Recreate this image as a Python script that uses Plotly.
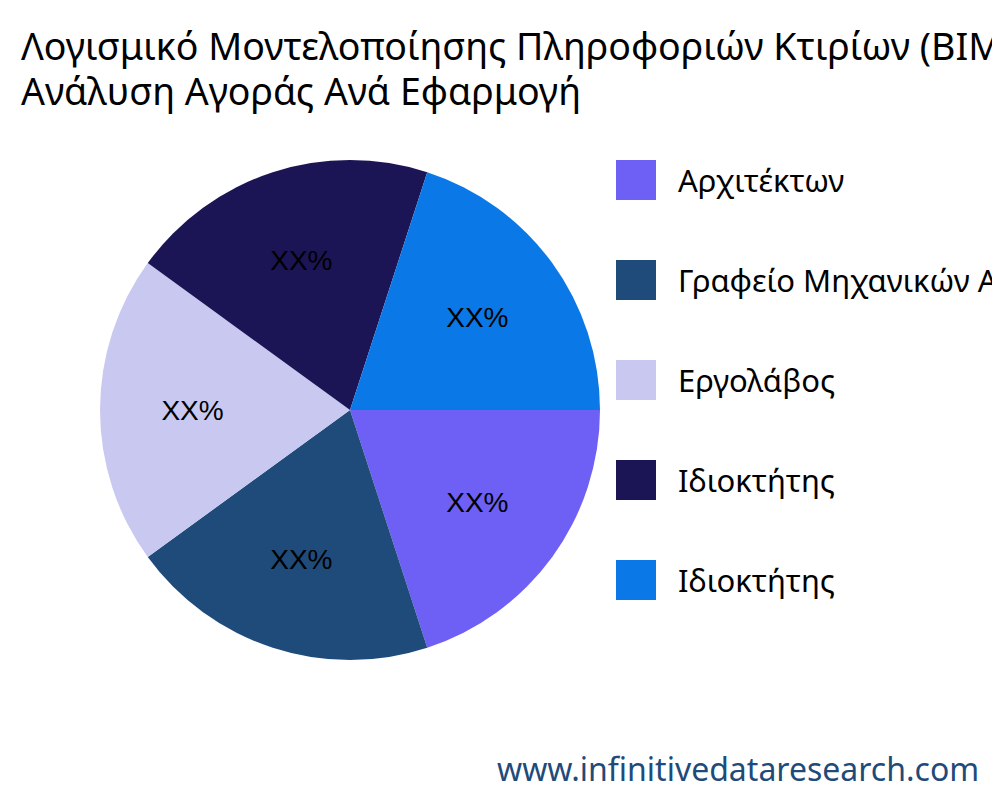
import plotly.graph_objects as go

labels = ["Αρχιτέκτων", "Γραφείο Μηχανικών Αρχιτεκτόνων", "Εργολάβος", "Ιδιοκτήτης", "Ιδιοκτήτης"]
values = [20, 20, 20, 20, 20]
texts = ["XX%"] * 5
colors = ["#6E5FF5", "#1F4B7A", "#C8C8F0", "#1B1555", "#0A78E6"]
title_lines = ["Λογισμικό Μοντελοποίησης Πληροφοριών Κτιρίων (BIM)", "Ανάλυση Αγοράς Ανά Εφαρμογή"]

W, H, OFF = 1000, 800, 8
def px(x): return (x - OFF) / W
def py(y): return 1 - (y - OFF) / H

fig = go.Figure(go.Pie(
    labels=[f"s{i}" for i in range(len(labels))], values=values, text=texts,
    textinfo="text", sort=False, direction="clockwise", rotation=90,
    marker=dict(colors=colors), showlegend=False,
    textfont=dict(family="Liberation Sans, Arial", size=28, color="black"),
    insidetextorientation="horizontal",
    domain=dict(x=[px(100), px(600)], y=[py(660), py(160)]), hoverinfo="skip"))

shapes, annotations = [], []
for i, (lab, c) in enumerate(zip(labels, colors)):
    yc = 180 + 100 * i
    shapes.append(dict(type="rect", xref="paper", yref="paper", x0=px(616), x1=px(656),
                       y0=py(yc + 20), y1=py(yc - 20), fillcolor=c, line_width=0))
    annotations.append(dict(text=lab, xref="paper", yref="paper", x=px(676), y=py(yc),
                            xanchor="left", yanchor="middle", showarrow=False,
                            font=dict(family="Noto Sans", size=31, color="black")))
for j, t in enumerate(title_lines):
    annotations.append(dict(text=t, xref="paper", yref="paper", x=px(19), y=py(46 + 44 * j),
                            xanchor="left", yanchor="middle", showarrow=False,
                            font=dict(family="Noto Sans", size=37.5, color="black")))
annotations.append(dict(text="www.infinitivedataresearch.com", xref="paper", yref="paper",
                        x=px(981), y=py(768), xanchor="right", yanchor="middle", showarrow=False,
                        font=dict(family="Noto Sans", size=32, color="#1F4B7A")))

fig.update_layout(width=W, height=H, margin=dict(l=0, r=0, t=0, b=0),
                  paper_bgcolor="white", shapes=shapes, annotations=annotations)
fig.write_html("out.html")
